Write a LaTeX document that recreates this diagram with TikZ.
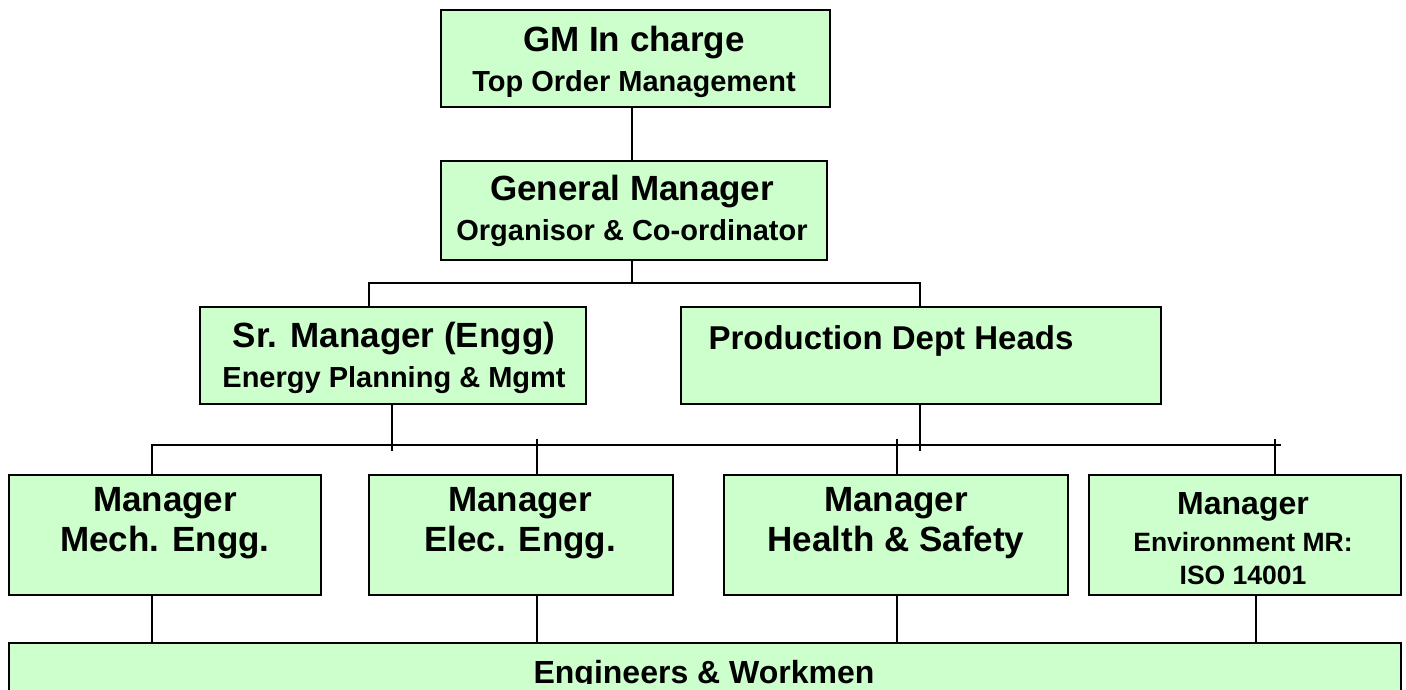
\documentclass[tikz,border=0pt]{standalone}
\usepackage{fontspec}
\setmainfont{Liberation Sans}
\usetikzlibrary{calc}
\definecolor{boxgreen}{HTML}{CCFFCC}
\newcommand\fa{\fontsize{35}{40}\selectfont}
\newcommand\fb{\fontsize{29}{34}\selectfont}
\newcommand\fc{\fontsize{32}{37}\selectfont}
\newcommand\fd{\fontsize{26.5}{37}\selectfont}
\begin{document}
\begin{tikzpicture}[x=1pt,y=-1pt,
  box/.style={draw=black, line width=1.6pt, fill=boxgreen, inner sep=0pt, anchor=north west},
  txt/.style={font=\bfseries\fa, align=center, inner sep=0pt},
  conn/.style={line width=1.6pt}]
\useasboundingbox (0,0) rectangle (1406,690);
\begin{scope}
\clip (0,0) rectangle (1406,690);
% boxes
\node[box, minimum width=389, minimum height=97] (gm) at (440,9) {};
\node[box, minimum width=386, minimum height=99] (gen) at (440,160) {};
\node[box, minimum width=386, minimum height=97] (sr) at (199,306) {};
\node[box, minimum width=480, minimum height=97] (prod) at (680,306) {};
\node[box, minimum width=312, minimum height=120] (mech) at (8,474) {};
\node[box, minimum width=304, minimum height=120] (elec) at (368,474) {};
\node[box, minimum width=344, minimum height=120] (hs) at (723,474) {};
\node[box, minimum width=312, minimum height=120] (env) at (1088,474) {};
\node[box, minimum width=1392, minimum height=48] (eng) at (8,642) {};
% texts
\node[txt] (gmT) at (634,62) {GM In charge\\\fb Top Order Management};
\node[txt] (genT) at (632,211) {General Manager\\\fb Organisor \& Co-ordinator};
\node[txt] (srT) at (394,358) {Sr. Manager (Engg)\\\fb Energy Planning \& Mgmt};
\node[txt, font=\bfseries\fontsize{33}{38}\selectfont] (prodT) at (891,341) {Production Dept Heads};
\node[txt] (mechT) at (165,523) {Manager\\Mech. Engg.};
\node[txt] (elecT) at (520,523) {Manager\\Elec. Engg.};
\node[txt] (hsT) at (896,523) {Manager\\Health \& Safety};
\node[txt, font=\bfseries\fc] (envT) at (1243,539) {Manager\\\fd Environment MR:\\[-4pt]\fd ISO 14001};
\begin{scope}
\clip (8,642) rectangle (1400,683);
\node[txt, font=\bfseries\fontsize{32}{37}\selectfont, anchor=base] (engT) at (704,683) {Engineers \& Workmen};
\end{scope}
% connector coordinates
\coordinate (b1) at (632,283);
\coordinate (bL) at (369,283);
\coordinate (bR) at (920,283);
\coordinate (c1) at (152,445);
\coordinate (c2) at (537,439);
\coordinate (c3) at (897,439);
\coordinate (c4) at (1275,439);
\coordinate (cE) at (1281,445);
\coordinate (s1) at (392,451);
\coordinate (s2) at (920,451);
\coordinate (d4) at (1256,594);
% level 1 -> 2
\draw[conn] (gm.south -| b1) -- (gen.north -| b1);
% level 2 -> 3
\draw[conn] (gen.south -| b1) -- (b1);
\draw[conn] (bL |- sr.north) -- (bL) -- (bR) -- (bR |- prod.north);
% level 3 -> 4
\draw[conn] (sr.south -| s1) -- (s1);
\draw[conn] (prod.south -| s2) -- (s2);
\draw[conn] (c1 |- mech.north) -- (c1) -- (cE);
\draw[conn] (c2) -- (c2 |- elec.north);
\draw[conn] (c3) -- (c3 |- hs.north);
\draw[conn] (c4) -- (c4 |- env.north);
% level 4 -> 5
\draw[conn] (mech.south -| c1) -- (eng.north -| c1);
\draw[conn] (elec.south -| c2) -- (eng.north -| c2);
\draw[conn] (hs.south -| c3) -- (eng.north -| c3);
\draw[conn] (d4) -- (eng.north -| d4);
\end{scope}
\end{tikzpicture}
\end{document}
